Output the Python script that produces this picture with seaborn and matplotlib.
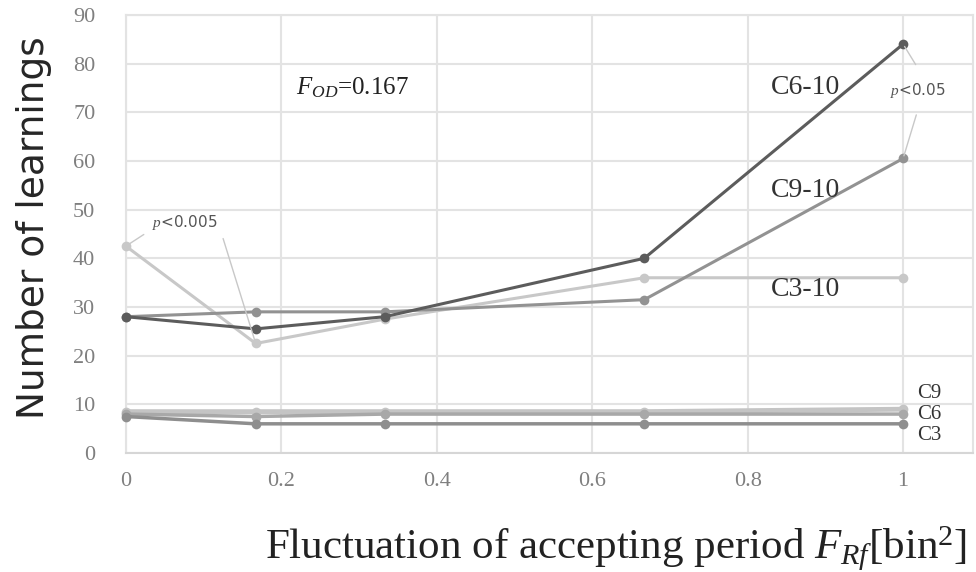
import numpy as np
import pandas as pd
import matplotlib
matplotlib.use("Agg")
import matplotlib.pyplot as plt
import seaborn as sns

# Data
fluctuation = [0, 0.167, 0.333, 0.667, 1.0]
c6_10 = [28, 25.5, 28, 40, 84]
c9_10 = [28, 29, 29, 31.5, 60.5]
c3_10 = [42.5, 22.5, 27.5, 36, 36]
c9 = [8.5, 8.5, 8.5, 8.5, 9]
c6 = [8, 7.5, 8, 8, 8]
c3 = [7.5, 6, 6, 6, 6]

series = {"C9": c9, "C6": c6, "C3": c3, "C3-10": c3_10, "C9-10": c9_10, "C6-10": c6_10}
palette = {"C9": "#c4c4c4", "C6": "#a8a8a8", "C3": "#8e8e8e",
           "C3-10": "#c8c8c8", "C9-10": "#929292", "C6-10": "#5c5c5c"}
widths = {"C9": 3.5, "C6": 2.5, "C3": 2.5, "C3-10": 2.2, "C9-10": 2.2, "C6-10": 2.2}

df = pd.DataFrame([
    {"x": xv, "y": yv, "series": name}
    for name, vals in series.items()
    for xv, yv in zip(fluctuation, vals)
])

sns.set_style("white")
plt.rcParams["font.family"] = ["Liberation Serif", "DejaVu Serif"]
plt.rcParams["mathtext.fontset"] = "custom"
plt.rcParams["mathtext.rm"] = "Liberation Serif"
plt.rcParams["mathtext.it"] = "Liberation Serif:italic"

fig = plt.figure(figsize=(9.76, 5.72), dpi=100)
ax = fig.add_axes([0.129, 0.208, 0.868, 0.766])

for name in series:
    sub = df[df["series"] == name]
    sns.lineplot(data=sub, x="x", y="y", color=palette[name], lw=widths[name],
                 marker="o", markersize=7, markeredgewidth=0, ax=ax, zorder=3,
                 clip_on=False)

ax.set_xlim(0, 1.09)
ax.set_ylim(0, 90)
ax.set_xticks([0, 0.2, 0.4, 0.6, 0.8, 1.0])
ax.set_xticklabels(["0", "0.2", "0.4", "0.6", "0.8", "1"])
ax.set_yticks(range(0, 91, 10))
ax.tick_params(axis="both", labelsize=16, labelcolor="#7f7f7f", length=0)
ax.tick_params(axis="x", pad=14)
ax.tick_params(axis="y", pad=22)
ax.grid(True, color="#e3e3e3", lw=1.5)
ax.set_axisbelow(True)
for s in ax.spines.values():
    s.set_color("#e3e3e3")
    s.set_linewidth(1.5)
ax.spines["bottom"].set_color("#d6d6d6")

ax.set_ylabel("Number of learnings", family="DejaVu Sans", fontsize=27)
ax.yaxis.set_label_coords(-0.087, 0.515)
ax.set_xlabel(r"Fluctuation of accepting period $F_{Rf}$[bin$^{2}$]", fontsize=31,
              color="#222222")
ax.xaxis.set_label_coords(0.578, -0.163)

# Series labels
ax.text(0.874, 75, "C6-10", fontsize=20, ha="center", va="center", color="#333333")
ax.text(0.874, 54, "C9-10", fontsize=20, ha="center", va="center", color="#333333")
ax.text(0.874, 33.5, "C3-10", fontsize=20, ha="center", va="center", color="#333333")
ax.text(1.018, 12.3, "C9", fontsize=15, ha="left", va="center", color="#333333")
ax.text(1.018, 8.0, "C6", fontsize=15, ha="left", va="center", color="#333333")
ax.text(1.018, 3.7, "C3", fontsize=15, ha="left", va="center", color="#333333")
ax.text(0.291, 75, r"$F_{OD}$=0.167", fontsize=18, ha="center", va="center", color="#222222")

# significance brackets
line_kw = dict(arrowstyle="-", color="#c8c8c8", lw=1)
ax.text(0.076, 47.4, "$p$<0.005", family="DejaVu Sans", fontsize=11, ha="center",
        va="center", color="#555555")
ax.annotate("", xy=(0, c3_10[0]), xytext=(0.026, 45.2), arrowprops=line_kw)
ax.annotate("", xy=(fluctuation[1], c3_10[1]), xytext=(0.124, 44.6), arrowprops=line_kw)
ax.text(1.019, 74.5, "$p$<0.05", family="DejaVu Sans", fontsize=11, ha="center",
        va="center", color="#555555")
ax.annotate("", xy=(1.0, c6_10[4]), xytext=(1.018, 79.3), arrowprops=line_kw)
ax.annotate("", xy=(1.0, c9_10[4]), xytext=(1.018, 70.0), arrowprops=line_kw)

fig.savefig("out.png", dpi=100)
